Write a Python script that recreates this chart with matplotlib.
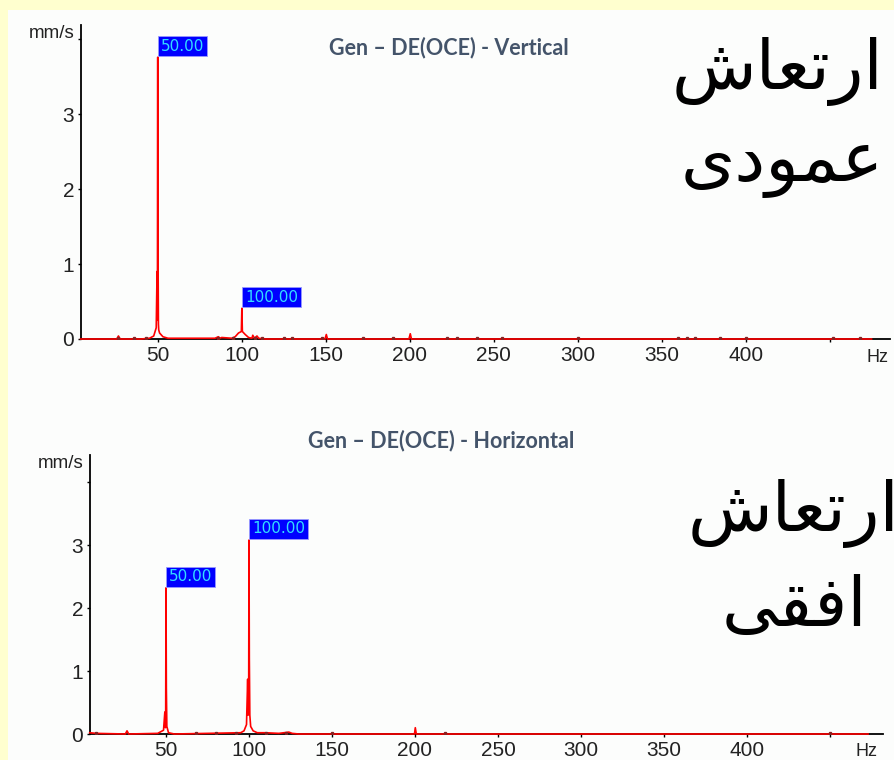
import matplotlib
matplotlib.use("Agg")
import matplotlib.pyplot as plt
from matplotlib.patches import Rectangle

# Spectrum, vertical direction (Hz, mm/s)
freq_v = [4, 25.5, 26.5, 27.5, 40, 45, 47.5, 49.0, 49.5, 49.7, 49.9, 50.0, 50.1, 50.3, 50.5,
          51, 53, 56, 84, 86, 87, 88, 94, 96, 98, 99.7, 100.0, 100.3, 102, 104,
          106, 106.5, 107.5, 109, 110, 113, 149.5, 150.3, 151, 199.5, 200.3, 201, 475]
amp_v = [0, 0, 0.04, 0, 0, 0.01, 0.04, 0.15, 0.9, 0.25, 3.76, 0.3, 1.05, 0.2, 0.12,
         0.08, 0.03, 0.01, 0.01, 0.03, 0.01, 0.02, 0.01, 0.03, 0.08, 0.1, 0.41, 0.1, 0.06, 0.02,
         0.01, 0.05, 0.01, 0.04, 0.01, 0, 0, 0.06, 0, 0, 0.07, 0, 0]

# Spectrum, horizontal direction (Hz, mm/s)
freq_h = [4, 8, 25.5, 26.5, 27.5, 45, 48.5, 49.3, 49.6, 49.8, 50.0, 50.2, 50.5, 51.5, 55,
          95, 97, 98.5, 99.2, 99.5, 99.8, 100.0, 100.2, 100.5, 101, 102.5, 105, 110,
          118, 124, 126, 130, 199.7, 200.2, 200.8, 473]
amp_h = [0.02, 0.01, 0, 0.05, 0, 0.01, 0.06, 0.35, 0.1, 0.3, 2.32, 0.73, 0.12, 0.02, 0,
         0.02, 0.05, 0.15, 0.87, 0.3, 0.5, 3.08, 1.2, 0.3, 0.12, 0.05, 0.02, 0.02,
         0.01, 0.03, 0.01, 0, 0, 0.1, 0, 0]

# dark specks on the baseline
specks_v = [26, 36, 43, 86, 95, 108, 112, 125, 130, 148, 172, 190,
            222, 228, 240, 255, 300, 360, 365, 370, 385, 400, 452, 468]
specks_h = [8, 68, 80, 92, 110, 122, 150, 218, 450]

peaks_v = [50.0, 100.0]
peak_amp_v = [3.76, 0.41]
peaks_h = [50.0, 100.0]
peak_amp_h = [2.32, 3.08]

ticks_x = [50, 100, 150, 200, 250, 300, 350, 400, 450]
tick_labels_x = ["50", "100", "150", "200", "250", "300", "350", "400", ""]
ticks_y = [0, 1, 2, 3, 4]
tick_labels_y = ["0", "1", "2", "3", ""]

title_v = "Gen – DE(OCE) - Vertical"
title_h = "Gen – DE(OCE) - Horizontal"
# Persian words in presentation forms, visual order
fa_word = "\uFEB5\uFE8E\uFECC\uFE97\uFEAD\uFE8D"      # ارتعاش
fa_v = "\uFBFC\uFEA9\uFEEE\uFEE4\uFECB"               # عمودی
fa_h = "\uFBFD\uFED8\uFED3\uFE8D"                     # افقی

W, H = 894, 760
fig = plt.figure(figsize=(W / 100, H / 100), dpi=100, facecolor="#FCFDFC")
# yellow slide border on the left and top
fig.patches.append(Rectangle((0, 0), 8 / W, 1, transform=fig.transFigure,
                             facecolor="#FFFFCF", edgecolor="none", zorder=-10))
fig.patches.append(Rectangle((0, 1 - 10 / H), 1, 10 / H, transform=fig.transFigure,
                             facecolor="#FFFFCF", edgecolor="none", zorder=-10))


def spectrum(rect, freq, amp, specks, peaks, peak_amp, xlim, ylim):
    ax = fig.add_axes(rect)
    ax.patch.set_alpha(0)
    ax.plot(freq, amp, color="#FF0000", lw=1.2, zorder=3, clip_on=False)
    ax.plot(specks, [0.01] * len(specks), ls="none", marker="s", ms=1.4,
            color="#882222", zorder=4)
    for f, a in zip(peaks, peak_amp):
        ax.annotate(f"{f:.2f}", xy=(f, a), xytext=(2.2, 2.6), textcoords="offset points",
                    ha="left", va="bottom", fontsize=11, color="#33DDFF",
                    family="DejaVu Sans",
                    bbox=dict(boxstyle="square,pad=0.18", fc="#0000FF", ec="#9999FF", lw=0.6),
                    zorder=5)
    ax.set_xlim(*xlim)
    ax.set_ylim(*ylim)
    ax.set_xticks(ticks_x)
    ax.set_xticklabels(tick_labels_x)
    ax.set_yticks(ticks_y)
    ax.set_yticklabels(tick_labels_y)
    for s in ["top", "right"]:
        ax.spines[s].set_visible(False)
    ax.spines["left"].set_linewidth(1.3)
    ax.spines["bottom"].set_linewidth(1.3)
    ax.tick_params(direction="out", length=2.5, width=1, pad=2.5,
                   labelsize=15, labelcolor="#222222")
    for lab in ax.get_xticklabels() + ax.get_yticklabels():
        lab.set_family("Liberation Sans")
    ax.text(-0.008, 1.0, "mm/s", transform=ax.transAxes, ha="right", va="top",
            fontsize=13.5, family="Liberation Sans", color="#222222")
    return ax


ax1 = spectrum([81 / W, 1 - 339 / H, 809 / W, 314 / H], freq_v, amp_v, specks_v,
               peaks_v, peak_amp_v, (4.2, 486), (0, 4.19))
ax1.text(0.998, -0.058, "Hz", transform=ax1.transAxes, ha="right", va="center",
         fontsize=13, family="Liberation Sans", color="#222222")

ax2 = spectrum([90 / W, 1 - 734 / H, 793 / W, 279 / H], freq_h, amp_h, specks_h,
               peaks_h, peak_amp_h, (4.2, 482), (0, 4.43))
ax2.text(0.993, -0.064, "Hz", transform=ax2.transAxes, ha="right", va="center",
         fontsize=13, family="Liberation Sans", color="#222222")

fig.text(449 / W, 1 - 48 / H, title_v, ha="center", va="center", fontsize=15.5,
         fontweight="bold", family="Lato", color="#44546A")
fig.text(441 / W, 1 - 441 / H, title_h, ha="center", va="center", fontsize=15.5,
         fontweight="bold", family="Lato", color="#44546A")

fa_kw = dict(ha="center", va="center", fontsize=50, family="DejaVu Sans", color="black")
fig.text(778 / W, 1 - 72 / H, fa_word, **fa_kw)
fig.text(782 / W, 1 - 164 / H, fa_v, **fa_kw)
fig.text(793 / W, 1 - 513 / H, fa_word, **fa_kw)
fig.text(794 / W, 1 - 606 / H, fa_h, **fa_kw)

fig.savefig("out.png", dpi=100, facecolor=fig.get_facecolor())
